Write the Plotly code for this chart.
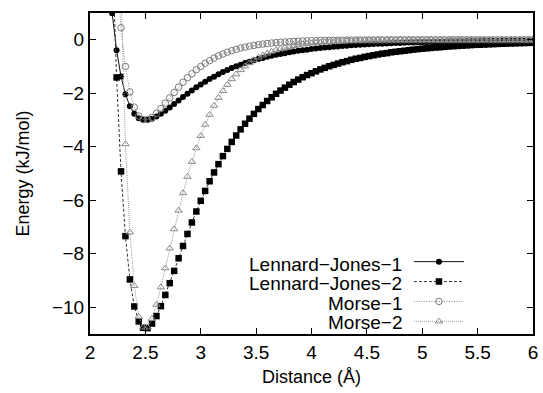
import plotly.graph_objects as go

distance = [2.16, 2.20, 2.24, 2.28, 2.32, 2.36, 2.40, 2.44, 2.48, 2.52, 2.56, 2.60, 2.64, 2.68, 2.72, 2.76,
            2.80, 2.84, 2.88, 2.92, 2.96, 3.00, 3.04, 3.08, 3.12, 3.16, 3.20, 3.24, 3.28, 3.32, 3.36, 3.40,
            3.44, 3.48, 3.52, 3.56, 3.60, 3.64, 3.68, 3.72, 3.76, 3.80, 3.84, 3.88, 3.92, 3.96, 4.00, 4.04,
            4.08, 4.12, 4.16, 4.20, 4.24, 4.28, 4.32, 4.36, 4.40, 4.44, 4.48, 4.52, 4.56, 4.60, 4.64, 4.68,
            4.72, 4.76, 4.80, 4.84, 4.88, 4.92, 4.96, 5.00, 5.04, 5.08, 5.12, 5.16, 5.20, 5.24, 5.28, 5.32,
            5.36, 5.40, 5.44, 5.48, 5.52, 5.56, 5.60, 5.64, 5.68, 5.72, 5.76, 5.80, 5.84, 5.88, 5.92, 5.96, 6.00]

lj1 = [2.91, 0.99, -0.39, -1.37, -2.04, -2.49, -2.77, -2.93, -2.99, -2.99, -2.95, -2.87, -2.77, -2.65, -2.53, -2.40,
       -2.27, -2.14, -2.02, -1.90, -1.78, -1.67, -1.57, -1.47, -1.38, -1.29, -1.21, -1.13, -1.06, -0.99, -0.93, -0.87,
       -0.82, -0.77, -0.72, -0.68, -0.64, -0.60, -0.56, -0.53, -0.50, -0.47, -0.44, -0.41, -0.39, -0.37, -0.35, -0.33,
       -0.31, -0.29, -0.28, -0.26, -0.25, -0.23, -0.22, -0.21, -0.20, -0.19, -0.18, -0.17, -0.16, -0.15, -0.145, -0.14,
       -0.13, -0.125, -0.12, -0.11, -0.107, -0.102, -0.098, -0.093, -0.089, -0.085, -0.081, -0.077, -0.074, -0.070, -0.067, -0.064,
       -0.061, -0.059, -0.056, -0.054, -0.052, -0.049, -0.047, -0.045, -0.043, -0.042, -0.040, -0.038, -0.037, -0.035, -0.034, -0.033, -0.031]

lj2 = [10.49, 3.57, -1.41, -4.92, -7.34, -8.96, -9.97, -10.53, -10.77, -10.78, -10.61, -10.33, -9.96, -9.54, -9.10, -8.64,
       -8.17, -7.71, -7.26, -6.83, -6.42, -6.02, -5.65, -5.29, -4.96, -4.65, -4.35, -4.08, -3.82, -3.58, -3.35, -3.14,
       -2.95, -2.77, -2.59, -2.44, -2.29, -2.15, -2.02, -1.90, -1.79, -1.68, -1.58, -1.49, -1.40, -1.32, -1.25, -1.18,
       -1.11, -1.05, -0.99, -0.94, -0.89, -0.84, -0.80, -0.75, -0.71, -0.68, -0.64, -0.61, -0.58, -0.55, -0.52, -0.50,
       -0.47, -0.45, -0.43, -0.41, -0.39, -0.37, -0.35, -0.335, -0.32, -0.305, -0.29, -0.28, -0.265, -0.25, -0.24, -0.23,
       -0.22, -0.21, -0.20, -0.19, -0.186, -0.178, -0.17, -0.163, -0.156, -0.15, -0.144, -0.138, -0.133, -0.127, -0.122, -0.117, -0.113]

morse1 = [9.0, 6.4, 2.6, 0.45, -1.0, -1.95, -2.52, -2.85, -2.985, -2.985, -2.90, -2.75, -2.57, -2.37, -2.17, -1.97,
          -1.77, -1.59, -1.42, -1.27, -1.12, -1.00, -0.88, -0.78, -0.685, -0.60, -0.53, -0.465, -0.41, -0.36, -0.31, -0.275,
          -0.24, -0.21, -0.184, -0.161, -0.141, -0.123, -0.108, -0.094, -0.082, -0.072, -0.063, -0.055, -0.048, -0.042, -0.037, -0.032,
          -0.028, -0.024, -0.021, -0.019, -0.016, -0.014, -0.012, -0.011, -0.009, -0.008, -0.007, -0.006, -0.005, -0.005, -0.004, -0.003,
          -0.003, -0.003, -0.002, -0.002, -0.002, -0.001, -0.001, -0.001, -0.001, -0.001, -0.001, -0.001, -0.001, 0.0, 0.0, 0.0,
          0.0, 0.0, 0.0, 0.0, 0.0, 0.0, 0.0, 0.0, 0.0, 0.0, 0.0, 0.0, 0.0, 0.0, 0.0, 0.0, 0.0]

morse2 = [30.0, 20.0, 10.0, 1.8, -3.9, -7.2, -9.2, -10.35, -10.75, -10.75, -10.43, -9.90, -9.25, -8.54, -7.80, -7.08,
          -6.38, -5.73, -5.12, -4.56, -4.05, -3.59, -3.17, -2.80, -2.46, -2.17, -1.91, -1.68, -1.47, -1.29, -1.13, -0.99,
          -0.87, -0.76, -0.66, -0.58, -0.51, -0.44, -0.39, -0.34, -0.30, -0.26, -0.23, -0.20, -0.17, -0.15, -0.13, -0.11,
          -0.10, -0.09, -0.08, -0.07, -0.06, -0.05, -0.045, -0.04, -0.034, -0.03, -0.026, -0.023, -0.02, -0.017, -0.015, -0.013,
          -0.012, -0.01, -0.009, -0.008, -0.007, -0.006, -0.005, -0.004, -0.004, -0.003, -0.003, -0.002, -0.002, -0.002, -0.002, -0.001,
          -0.001, -0.001, -0.001, -0.001, -0.001, -0.001, -0.001, -0.001, -0.001, -0.001, -0.001, -0.001, -0.001, -0.001, -0.001, -0.001, -0.001]

series_names = ["Lennard\u2212Jones\u22121", "Lennard\u2212Jones\u22122", "Morse\u22121", "Morse\u22122"]
x_ticks = [2, 2.5, 3, 3.5, 4, 4.5, 5, 5.5, 6]
y_ticks = [0, -2, -4, -6, -8, -10]

for arr in (lj1, lj2, morse1, morse2):
    assert len(arr) == len(distance), len(arr)

FONT = "Liberation Sans, Arial, Helvetica, sans-serif"

styles = [
    dict(line=dict(color="#111111", width=1, dash="solid"),
         marker=dict(symbol="circle", size=6, color="#000000", line=dict(width=0))),
    dict(line=dict(color="#333333", width=1, dash="3px,2px"),
         marker=dict(symbol="square", size=6.5, color="#000000", line=dict(width=0))),
    dict(line=dict(color="#8a8a8a", width=1, dash="1px,1.5px"),
         marker=dict(symbol="circle-open", size=6.5, color="#7a7a7a", line=dict(width=1))),
    dict(line=dict(color="#9a9a9a", width=1, dash="1px,1px"),
         marker=dict(symbol="triangle-up-open", size=6.5, color="#8a8a8a", line=dict(width=1))),
]

fig = go.Figure()
for ys, st in zip((lj1, lj2, morse1, morse2), styles):
    fig.add_trace(go.Scatter(x=distance, y=ys, mode="lines+markers", name=" ",
                             line=st["line"], marker=st["marker"], showlegend=True))

row_y = [0.216, 0.156, 0.096, 0.036]
for name, yy in zip(series_names, row_y):
    fig.add_annotation(text=name, xref="paper", yref="paper", x=0.708, y=yy,
                       xanchor="right", yanchor="middle", showarrow=False,
                       font=dict(family=FONT, size=19, color="#000"))

axis_common = dict(showline=True, linewidth=2, linecolor="#000", mirror="allticks",
                   ticks="inside", ticklen=6, tickwidth=1.3, tickcolor="#000",
                   showgrid=False, zeroline=False,
                   tickfont=dict(family=FONT, size=19, color="#000"))

fig.update_layout(
    width=543, height=393,
    margin=dict(l=90, r=5, t=13, b=59),
    paper_bgcolor="white", plot_bgcolor="white",
    xaxis=dict(range=[2, 6], tickvals=x_ticks, ticktext=[f"{v:g}" for v in x_ticks],
               title=dict(text="Distance (\u00c5)", font=dict(family=FONT, size=18, color="#000"), standoff=9),
               **axis_common),
    yaxis=dict(range=[-11, 1], tickvals=y_ticks,
               title=dict(text="Energy (kJ/mol)", font=dict(family=FONT, size=18, color="#000"), standoff=18),
               **axis_common),
    legend=dict(x=0.72, y=0.272, xanchor="left", yanchor="top", bgcolor="rgba(0,0,0,0)",
                font=dict(family=FONT, size=13), itemwidth=50, tracegroupgap=0),
    showlegend=True,
)

fig.write_html("out.html")
